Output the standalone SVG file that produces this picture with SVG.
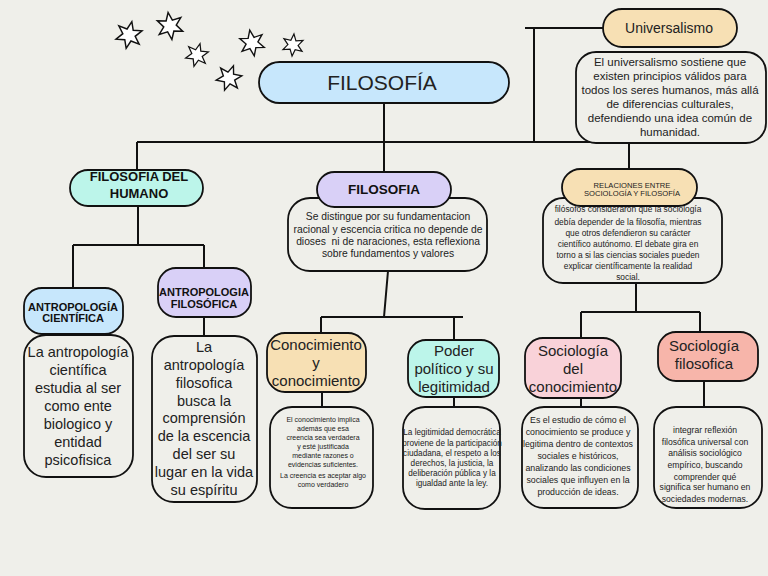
<svg xmlns="http://www.w3.org/2000/svg" width="768" height="576" viewBox="0 0 768 576">
<style>
.bg{fill:#efefea}
.box{stroke:#111;stroke-width:1.8}
.desc{fill:#efefea;stroke:#111;stroke-width:1.8}
.ln{fill:none;stroke:#111;stroke-width:2}
.star{fill:#fff;stroke:#111;stroke-width:1.4;stroke-linejoin:miter}
text{font-family:"Liberation Sans",Arial,sans-serif;fill:#222;text-anchor:middle}
.b{font-weight:bold;fill:#111}
.blue{fill:#c7e7fc}
.mint{fill:#bcf5ea}
.lav{fill:#d9d0f7}
.sand{fill:#f7e0b4}
.pink{fill:#f9d2d9}
.salmon{fill:#f7b5aa}
</style>
<defs>
<polygon id="star" points="0,-13 3,-5.2 11.26,-6.5 6,0 11.26,6.5 3,5.2 0,13 -3,5.2 -11.26,6.5 -6,0 -11.26,-6.5 -3,-5.2"/>
</defs>
<rect class="bg" x="0" y="0" width="768" height="576"/>

<g id="stars">
<use href="#star" class="star" transform="translate(129,35) rotate(12) scale(1.05)"/>
<use href="#star" class="star" transform="translate(170,26) rotate(-8) scale(1.05)"/>
<use href="#star" class="star" transform="translate(197,55) rotate(15) scale(0.9)"/>
<use href="#star" class="star" transform="translate(252,43) rotate(-10) scale(1)"/>
<use href="#star" class="star" transform="translate(293,45) rotate(5) scale(0.85)"/>
<use href="#star" class="star" transform="translate(229,78) rotate(20) scale(1)"/>
</g>

<g id="connectors">
<path class="ln" d="M525,28 H603 M534,28 V142 M137,142 H629 M384,103 V172 M137,142 V170 M629,142 V169"/>
<path class="ln" d="M138,206 V245 M73,245 H204 M73,245 V288 M204,245 V268 M204,317 V336"/>
<path class="ln" d="M388,271 L384,317 M321,317 H463 M321,317 V333 M454,317 V340 M322,392 V407 M454,397 V407"/>
<path class="ln" d="M636,283 V312 M581,312 H700 M581,312 V338 M700,312 V332 M581,398 V407 M704,381 V407"/>
</g>

<g id="universalismo">
<rect class="box sand" x="603" y="9" width="134" height="38" rx="19"/>
<text x="669" y="33" font-size="14">Universalismo</text>
</g>
<g id="universalismo-desc">
<rect class="desc" x="576" y="52" width="190" height="91" rx="20"/>
<text x="670" y="66" font-size="11.5">El universalismo sostiene que</text>
<text x="670" y="80" font-size="11.5">existen principios válidos para</text>
<text x="670" y="94" font-size="11.5">todos los seres humanos, más allá</text>
<text x="670" y="108" font-size="11.5">de diferencias culturales,</text>
<text x="670" y="122" font-size="11.5">defendiendo una idea común de</text>
<text x="670" y="136" font-size="11.5">humanidad.</text>
</g>

<g id="filosofia-title">
<rect class="box blue" x="259" y="62" width="250" height="41" rx="20.5"/>
<text x="382" y="89.5" font-size="21">FILOSOFÍA</text>
</g>

<g id="filosofia-del-humano">
<rect class="box mint" x="70" y="170" width="133" height="36" rx="18"/>
<text class="b" x="139" y="180.5" font-size="13">FILOSOFIA DEL</text>
<text class="b" x="139" y="197.5" font-size="13">HUMANO</text>
</g>

<g id="filosofia">
<rect class="desc" x="288" y="198" width="199" height="73" rx="22"/>
<text x="388" y="219.5" font-size="10.3">Se distingue por su fundamentacion</text>
<text x="388" y="232.5" font-size="10.3">racional y escencia critica no depende de</text>
<text x="388" y="244.5" font-size="10.3" xml:space="preserve">dioses  ni de naraciones, esta reflexiona</text>
<text x="388" y="256.5" font-size="10.3">sobre fundamentos y valores</text>
<rect class="box lav" x="317" y="172" width="134" height="35" rx="17.5"/>
<text class="b" x="384" y="194" font-size="13.5">FILOSOFIA</text>
</g>

<g id="relaciones">
<rect class="desc" x="543" y="198" width="179" height="85" rx="20"/>
<text x="628" y="212" font-size="8.4">filósofos consideraron que la sociología</text>
<text x="628" y="225" font-size="8.4">debía depender de la filosofía, mientras</text>
<text x="628" y="236" font-size="8.4">que otros defendieron su carácter</text>
<text x="628" y="246.5" font-size="8.4">científico autónomo. El debate gira en</text>
<text x="628" y="257.5" font-size="8.4">torno a si las ciencias sociales pueden</text>
<text x="628" y="269" font-size="8.4">explicar científicamente la realidad</text>
<text x="628" y="280" font-size="8.4">social.</text>
<rect class="box sand" x="562" y="169" width="135" height="37" rx="18.5"/>
<text x="632" y="188" font-size="7.6">RELACIONES ENTRE</text>
<text x="632" y="196" font-size="7.6">SOCIOLOGÍA Y FILOSOFÍA</text>
</g>

<g id="antropologia-cientifica">
<rect class="desc" x="24" y="335" width="109" height="142" rx="22"/>
<text x="78" y="357" font-size="14.5">La antropología</text>
<text x="78" y="375" font-size="14.5">científica</text>
<text x="78" y="393" font-size="14.5">estudia al ser</text>
<text x="78" y="411" font-size="14.5">como ente</text>
<text x="78" y="429" font-size="14.5">biologico y</text>
<text x="78" y="447" font-size="14.5">entidad</text>
<text x="78" y="465" font-size="14.5">psicofisica</text>
<rect class="box blue" x="24" y="288" width="99" height="46" rx="18"/>
<text class="b" x="73" y="311" font-size="11">ANTROPOLOGÍA</text>
<text class="b" x="73" y="322" font-size="11">CIENTÍFICA</text>
</g>

<g id="antropologia-filosofica">
<rect class="box lav" x="158" y="268" width="93" height="49" rx="18"/>
<text class="b" x="204" y="296" font-size="11">ANTROPOLOGIA</text>
<text class="b" x="204" y="308" font-size="11">FILOSÓFICA</text>
<rect class="desc" x="152" y="336" width="105" height="166" rx="22"/>
<text x="204" y="352" font-size="14.5">La</text>
<text x="204" y="370" font-size="14.5">antropología</text>
<text x="204" y="388" font-size="14.5">filosofica</text>
<text x="204" y="406" font-size="14.5">busca la</text>
<text x="204" y="423" font-size="14.5">comprensión</text>
<text x="204" y="441" font-size="14.5">de la escencia</text>
<text x="204" y="459" font-size="14.5">del ser su</text>
<text x="204" y="477" font-size="14.5">lugar en la vida</text>
<text x="204" y="495" font-size="14.5">su espíritu</text>
</g>

<g id="conocimiento">
<rect class="box sand" x="267" y="333" width="99" height="59" rx="18"/>
<text x="316" y="350" font-size="15">Conocimiento</text>
<text x="316" y="368" font-size="15">y</text>
<text x="316" y="386" font-size="15">conocimiento</text>
<rect class="desc" x="270" y="407" width="103" height="101" rx="22"/>
<text x="323" y="421.5" font-size="7">El conocimiento implica</text>
<text x="323" y="430.5" font-size="7">además que esa</text>
<text x="323" y="440" font-size="7">creencia sea verdadera</text>
<text x="323" y="448.5" font-size="7">y esté justificada</text>
<text x="323" y="457.5" font-size="7">mediante razones o</text>
<text x="323" y="466.5" font-size="7">evidencias suficientes.</text>
<text x="323" y="477.5" font-size="7">La creencia es aceptar algo</text>
<text x="323" y="486.5" font-size="7">como verdadero</text>
</g>

<g id="poder-politico">
<rect class="box mint" x="408" y="340" width="91" height="57" rx="18"/>
<text x="454" y="356" font-size="15">Poder</text>
<text x="454" y="374" font-size="15">político y su</text>
<text x="454" y="392" font-size="15">legitimidad</text>
<rect class="desc" x="403" y="407" width="97" height="102" rx="22"/>
<text x="452" y="435" font-size="8.2">La legitimidad democrática</text>
<text x="452" y="446" font-size="8.2">proviene de la participación</text>
<text x="452" y="456" font-size="8.2">ciudadana, el respeto a los</text>
<text x="452" y="466" font-size="8.2">derechos, la justicia, la</text>
<text x="452" y="475.5" font-size="8.2">deliberación pública y la</text>
<text x="452" y="485.5" font-size="8.2">igualdad ante la ley.</text>
</g>

<g id="sociologia-conocimiento">
<rect class="box pink" x="525" y="338" width="96" height="60" rx="18"/>
<text x="573" y="356" font-size="15">Sociología</text>
<text x="573" y="374" font-size="15">del</text>
<text x="573" y="392" font-size="15">conocimiento</text>
<rect class="desc" x="522" y="407" width="116" height="101" rx="22"/>
<text x="578" y="423" font-size="8.8">Es el estudio de cómo el</text>
<text x="578" y="435" font-size="8.8">conocimiento se produce y</text>
<text x="578" y="447" font-size="8.8">legitima dentro de contextos</text>
<text x="578" y="459" font-size="8.8">sociales e históricos,</text>
<text x="578" y="471" font-size="8.8">analizando las condiciones</text>
<text x="578" y="483" font-size="8.8">sociales que influyen en la</text>
<text x="578" y="495" font-size="8.8">producción de ideas.</text>
</g>

<g id="sociologia-filosofica">
<rect class="box salmon" x="658" y="332" width="100" height="49" rx="18"/>
<text x="704" y="351" font-size="15">Sociología</text>
<text x="704" y="369" font-size="15">filosofica</text>
<rect class="desc" x="654" y="407" width="108" height="101" rx="22"/>
<text x="705" y="433" font-size="8.6">integrar reflexión</text>
<text x="705" y="445" font-size="8.6">filosófica universal con</text>
<text x="705" y="456" font-size="8.6">análisis sociológico</text>
<text x="705" y="468" font-size="8.6">empírico, buscando</text>
<text x="705" y="480" font-size="8.6">comprender qué</text>
<text x="705" y="490" font-size="8.6">significa ser humano en</text>
<text x="705" y="502" font-size="8.6">sociedades modernas.</text>
</g>
</svg>
